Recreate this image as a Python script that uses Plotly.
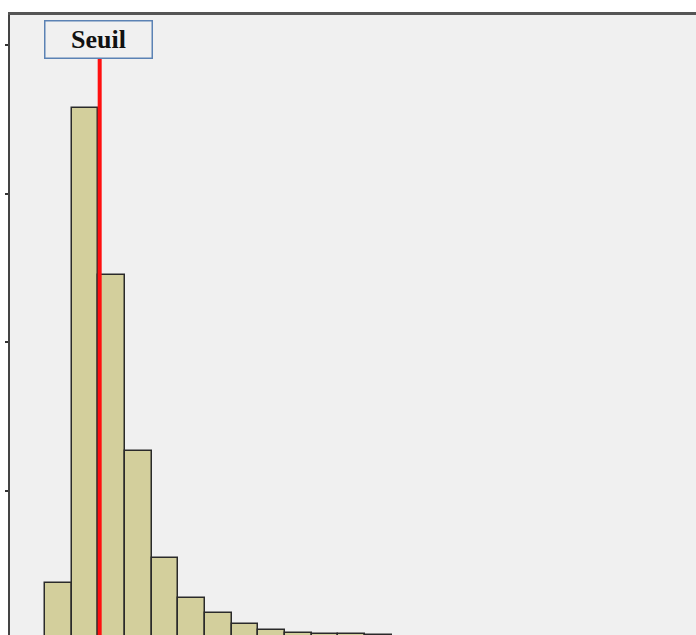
import plotly.graph_objects as go

# Histogram bins (bin index centers) and counts
bin_centers = [0.5, 1.5, 2.5, 3.5, 4.5, 5.5, 6.5, 7.5, 8.5, 9.5, 10.5, 11.5, 12.5]
counts = [377, 3576, 2451, 1266, 545, 276, 178, 99, 61, 42, 34, 31, 30]
threshold = 2.05
threshold_label = "Seuil"
y_ticks = [1000, 2000, 3000, 4000]

fig = go.Figure()
fig.add_trace(go.Bar(
    x=bin_centers, y=counts, width=1.0,
    marker=dict(color="#d3cf9c", line=dict(color="#2a2a2a", width=1.5)),
    showlegend=False, hoverinfo="skip",
))

fig.add_shape(type="line", xref="x", yref="paper",
              x0=threshold, x1=threshold, y0=-0.1, y1=0.929,
              line=dict(color="#ff1010", width=4))

fig.add_annotation(
    xref="x", yref="paper", x=threshold, y=0.9605, xshift=-1.5,
    xanchor="center", yanchor="middle", showarrow=False,
    text="<b>" + threshold_label + "</b>",
    font=dict(family="Liberation Serif", size=26, color="#111111"),
    width=104, height=34, borderpad=1,
    bordercolor="#5b82b4", borderwidth=1.5, bgcolor="#f0f0f0",
)

fig.update_layout(
    width=696, height=635,
    margin=dict(l=10, r=0, t=15, b=0),
    paper_bgcolor="white", plot_bgcolor="#f0f0f0",
    bargap=0,
    xaxis=dict(range=[-1.3125, 24.41], side="top", showline=True,
               linecolor="#555555", linewidth=3, showgrid=False,
               zeroline=False, showticklabels=False, ticks=""),
    yaxis=dict(range=[26.9, 4202], showline=True, linecolor="#444444",
               linewidth=2, showgrid=False, zeroline=False,
               tickvals=y_ticks, ticks="outside", ticklen=3, tickwidth=2,
               tickcolor="#333333", showticklabels=False),
)

fig.write_html("out.html", config={"displayModeBar": False},
               post_script="document.body.style.margin='0';document.body.style.overflow='hidden';")
